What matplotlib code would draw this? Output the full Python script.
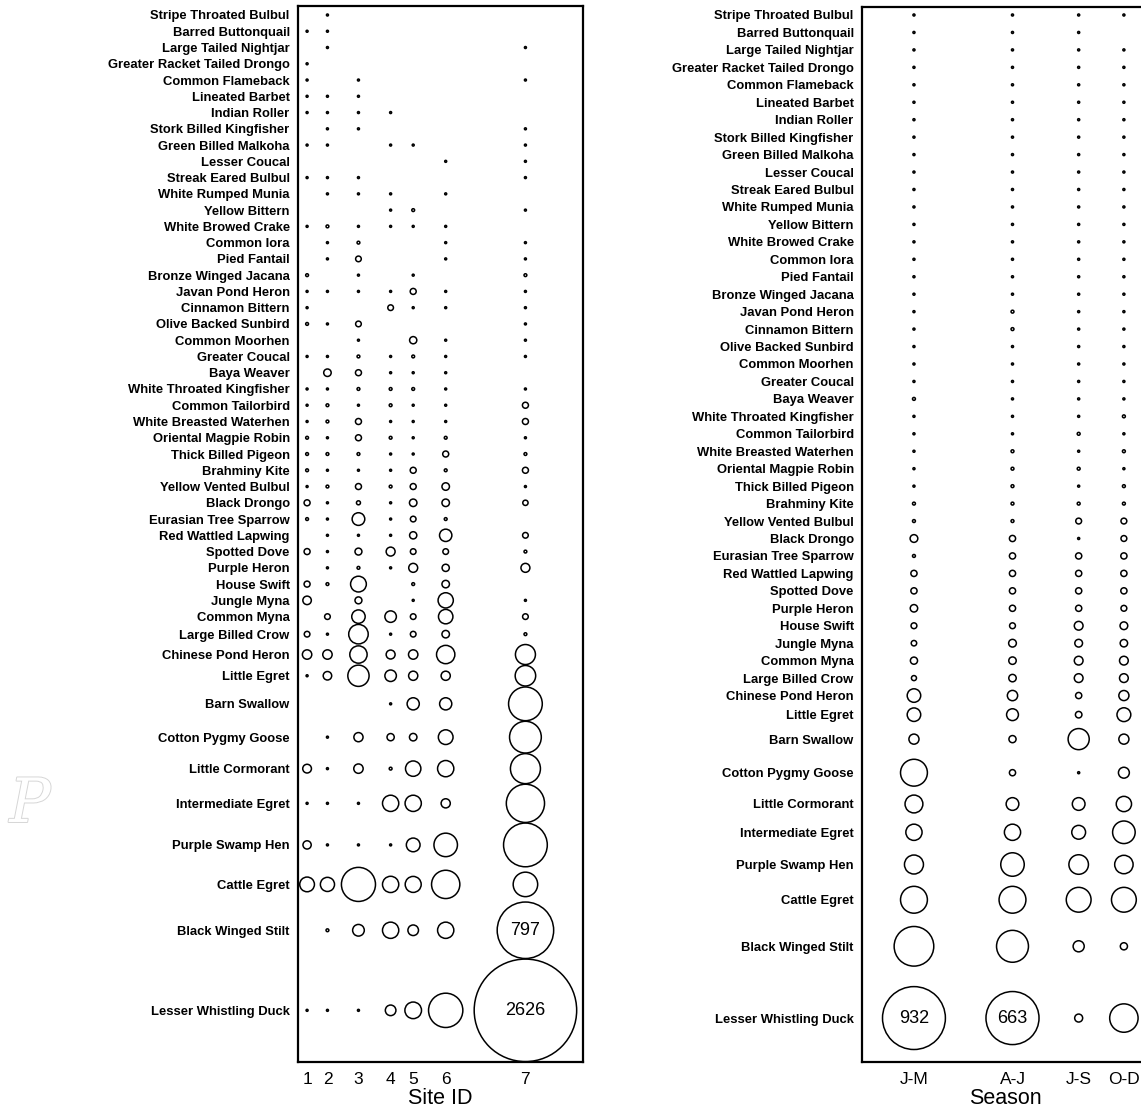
import numpy as np
import matplotlib
matplotlib.use("Agg")
import matplotlib.pyplot as plt
import matplotlib.patheffects as pe

# ---------------- data ----------------
species = [
    "Stripe Throated Bulbul", "Barred Buttonquail", "Large Tailed Nightjar",
    "Greater Racket Tailed Drongo", "Common Flameback", "Lineated Barbet",
    "Indian Roller", "Stork Billed Kingfisher", "Green Billed Malkoha",
    "Lesser Coucal", "Streak Eared Bulbul", "White Rumped Munia",
    "Yellow Bittern", "White Browed Crake", "Common Iora", "Pied Fantail",
    "Bronze Winged Jacana", "Javan Pond Heron", "Cinnamon Bittern",
    "Olive Backed Sunbird", "Common Moorhen", "Greater Coucal", "Baya Weaver",
    "White Throated Kingfisher", "Common Tailorbird", "White Breasted Waterhen",
    "Oriental Magpie Robin", "Thick Billed Pigeon", "Brahminy Kite",
    "Yellow Vented Bulbul", "Black Drongo", "Eurasian Tree Sparrow",
    "Red Wattled Lapwing", "Spotted Dove", "Purple Heron", "House Swift",
    "Jungle Myna", "Common Myna", "Large Billed Crow", "Chinese Pond Heron",
    "Little Egret", "Barn Swallow", "Cotton Pygmy Goose", "Little Cormorant",
    "Intermediate Egret", "Purple Swamp Hen", "Cattle Egret",
    "Black Winged Stilt", "Lesser Whistling Duck",
]

site_labels = ["1", "2", "3", "4", "5", "6", "7"]
site_1 = [0, 1, 0, 1, 1, 1, 1, 0, 1, 0, 1, 0, 0, 1, 0, 0, 2, 1, 1, 2, 0, 1, 0, 1, 1,
          1, 2, 2, 2, 1, 9, 2, 0, 9, 0, 9, 18, 0, 8, 22, 1, 0, 0, 19, 1, 17, 54, 0, 1]
site_2 = [1, 1, 1, 0, 0, 1, 1, 1, 1, 0, 1, 1, 0, 2, 1, 1, 0, 1, 0, 1, 0, 1, 14, 1, 2,
          2, 1, 2, 1, 2, 1, 1, 1, 1, 1, 2, 0, 8, 1, 22, 18, 0, 1, 1, 1, 1, 50, 2, 1]
site_3 = [0, 0, 0, 0, 1, 1, 1, 1, 0, 0, 1, 1, 0, 1, 2, 8, 1, 1, 0, 8, 1, 2, 9, 2, 1,
          9, 9, 2, 1, 9, 4, 40, 1, 12, 2, 62, 12, 45, 95, 75, 113, 0, 21, 22, 1, 1, 290, 34, 1]
site_4 = [0, 0, 0, 0, 0, 0, 1, 0, 1, 0, 0, 1, 1, 1, 0, 0, 0, 1, 8, 0, 0, 1, 1, 2, 2,
          1, 2, 1, 1, 2, 1, 1, 1, 20, 1, 0, 0, 33, 1, 20, 33, 1, 13, 2, 66, 1, 66, 66, 28]
site_5 = [0, 0, 0, 0, 0, 0, 0, 0, 1, 0, 0, 0, 2, 1, 0, 0, 1, 9, 1, 0, 13, 2, 1, 2, 1,
          1, 1, 1, 9, 9, 14, 8, 13, 8, 20, 2, 1, 8, 8, 22, 21, 37, 14, 59, 66, 47, 64, 28, 69]
site_6 = [0, 0, 0, 0, 0, 0, 0, 0, 0, 1, 0, 1, 0, 1, 1, 1, 0, 1, 1, 0, 1, 1, 1, 1, 1,
          1, 2, 9, 2, 14, 14, 2, 38, 8, 13, 14, 58, 52, 14, 84, 21, 37, 54, 66, 21, 138, 200, 66, 294]
site_7 = [0, 0, 1, 0, 1, 0, 0, 1, 1, 1, 1, 0, 1, 0, 1, 1, 2, 1, 1, 1, 1, 1, 0, 1, 9,
          9, 1, 2, 9, 1, 7, 0, 8, 2, 20, 0, 1, 8, 2, 100, 105, 284, 252, 225, 365, 478, 150, 797, 2626]

season_labels = ["J-M", "A-J", "J-S", "O-D"]
jan_mar = [1, 1, 1, 1, 1, 1, 1, 1, 1, 1, 1, 1, 1, 1, 1, 1, 1, 1, 1, 1, 1, 1, 2, 1, 1,
           1, 1, 1, 2, 2, 14, 2, 9, 9, 13, 8, 7, 12, 6, 43, 43, 24, 170, 75, 62, 85, 170, 370, 932]
apr_jun = [1, 1, 1, 1, 1, 1, 1, 1, 1, 1, 1, 1, 1, 1, 1, 1, 1, 2, 2, 1, 1, 1, 1, 1, 1,
           2, 2, 2, 2, 2, 9, 9, 9, 9, 9, 8, 14, 13, 13, 25, 33, 12, 9, 38, 62, 130, 170, 240, 663]
jul_sep = [1, 1, 1, 1, 1, 1, 1, 1, 1, 1, 1, 1, 1, 1, 1, 1, 1, 1, 1, 1, 1, 1, 1, 1, 2,
           1, 2, 1, 2, 8, 1, 9, 9, 9, 9, 18, 14, 18, 18, 9, 10, 105, 1, 38, 45, 90, 145, 29, 15]
oct_dec = [1, 0, 1, 1, 1, 1, 1, 1, 1, 1, 1, 1, 1, 1, 1, 1, 1, 1, 1, 1, 1, 1, 1, 2, 1,
           2, 1, 2, 2, 8, 8, 9, 9, 9, 8, 14, 13, 18, 18, 24, 45, 24, 28, 55, 120, 80, 145, 12, 190]

# ---------------- figure ----------------
DPI = 100
FIG_W, FIG_H = 1141, 1113
LABEL_FONT = ["Liberation Sans", "DejaVu Sans"]

fig = plt.figure(figsize=(FIG_W / DPI, FIG_H / DPI), dpi=DPI)
fig.patch.set_facecolor("white")


def bubble_layout(matrix, k, row_base, row_f, row_pad, row_top,
                  col_f, col_pad, col_lead, col_tail):
    radii = k * np.sqrt(matrix)
    row_max = radii.max(axis=1)
    col_max = radii.max(axis=0)
    ys = [row_top]
    for i in range(1, len(row_max)):
        ys.append(ys[-1] + max(row_base, row_f * (row_max[i - 1] + row_max[i]) + row_pad))
    height = ys[-1] + row_f * row_max[-1] + row_pad
    xs = [col_f * col_max[0] + col_lead]
    for j in range(1, len(col_max)):
        xs.append(xs[-1] + col_f * (col_max[j - 1] + col_max[j]) + col_pad)
    width = xs[-1] + col_f * col_max[-1] + col_tail
    return np.array(xs), np.array(ys), width, height


def draw_panel(left_px, top_px, columns, col_labels, xlabel, k, lay):
    matrix = np.array(columns, dtype=float).T
    xs, ys, width, height = bubble_layout(matrix, k, **lay)
    ax = fig.add_axes([left_px / FIG_W, 1 - (top_px + height) / FIG_H,
                       width / FIG_W, height / FIG_H])
    ax.set_xlim(0, width)
    ax.set_ylim(height, 0)
    for j, col in enumerate(columns):
        vals = np.array(col, dtype=float)
        m = vals > 0
        r_px = k * np.sqrt(vals[m])
        s = (2 * r_px * 72 / DPI) ** 2
        ax.scatter(np.full(m.sum(), xs[j]), ys[m], s=s, facecolors="none",
                   edgecolors="black", linewidths=1.1, zorder=3, clip_on=False)
        for yi, v in zip(ys[m], vals[m]):
            if v >= 500:
                ax.text(xs[j], yi, f"{int(v)}", ha="center", va="center",
                        fontsize=13, family=LABEL_FONT, zorder=4)
    ax.set_yticks(ys)
    ax.set_yticklabels(species, fontsize=9.4, fontweight="bold", family=LABEL_FONT)
    ax.set_xticks(xs)
    ax.set_xticklabels(col_labels, fontsize=12.5, family=LABEL_FONT)
    ax.tick_params(axis="both", length=0)
    ax.tick_params(axis="y", pad=6)
    ax.tick_params(axis="x", pad=7)
    ax.set_xlabel(xlabel, fontsize=15.5, family=LABEL_FONT, labelpad=1)
    for sp in ax.spines.values():
        sp.set_linewidth(1.6)
    return ax


draw_panel(298, 6, [site_1, site_2, site_3, site_4, site_5, site_6, site_7],
           site_labels, "Site ID", 1.0,
           dict(row_base=16.26, row_f=1.0, row_pad=0.6, row_top=9,
                col_f=1.1, col_pad=4.5, col_lead=1, col_tail=1))

draw_panel(862, 7, [jan_mar, apr_jun, jul_sep, oct_dec],
           season_labels, "Season", 1.03,
           dict(row_base=17.45, row_f=1.4, row_pad=0, row_top=8,
                col_f=1.7, col_pad=0, col_lead=-1.5, col_tail=0))

# faint watermark
fig.text(30 / FIG_W, 1 - 805 / FIG_H, "P", fontsize=44, style="italic",
         family="DejaVu Serif", color="white", ha="center", va="center",
         path_effects=[pe.withStroke(linewidth=1.4, foreground="#d6d6d6")])

fig.savefig("out.png", dpi=DPI, facecolor="white")
